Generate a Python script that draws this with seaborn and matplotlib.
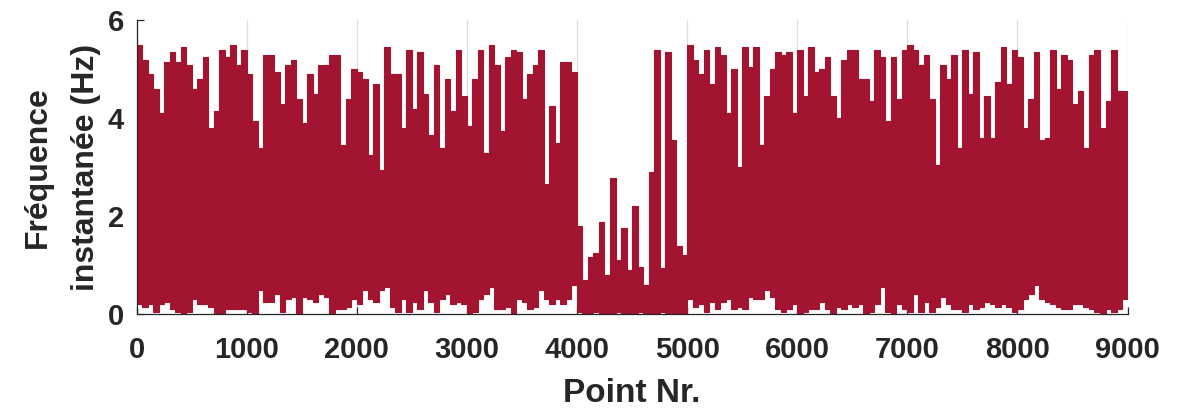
import numpy as np
import pandas as pd
import matplotlib
matplotlib.use("Agg")
import matplotlib.pyplot as plt
import seaborn as sns

# ---- data (upper / lower envelope per 50-point bin) ----
bin_width = 50
peaks = [5.5, 5.2, 4.9, 4.6, 4.1, 5.15, 5.35, 5.15, 5.45, 5.1,
         4.6, 4.8, 5.25, 3.8, 4.15, 5.4, 5.25, 5.5, 5.1, 5.4,
         4.9, 3.95, 3.4, 5.3, 5.3, 4.95, 4.3, 5.1, 5.2, 4.4,
         3.9, 4.9, 4.5, 5.1, 5.1, 5.3, 5.3, 3.45, 4.4, 5.0,
         4.95, 4.8, 3.25, 4.7, 2.95, 5.45, 4.9, 4.9, 3.8, 5.4,
         4.2, 5.35, 4.5, 3.65, 5.1, 3.4, 4.8, 4.15, 5.4, 4.45,
         3.85, 4.8, 5.4, 3.3, 5.5, 5.1, 3.75, 5.25, 5.4, 5.35,
         4.4, 4.9, 5.1, 5.4, 2.65, 4.25, 3.5, 5.15, 5.15, 4.95,
         1.8, 0.7, 1.17, 1.24, 1.89, 0.8, 2.77, 1.1, 1.75, 0.9,
         2.2, 0.97, 0.6, 2.9, 5.4, 0.95, 5.36, 3.56, 1.4, 1.2,
         5.5, 5.2, 4.9, 5.4, 4.7, 5.45, 5.3, 4.1, 5.0, 3.0,
         5.45, 5.05, 5.45, 3.45, 4.45, 5.0, 5.35, 5.3, 5.35, 4.1,
         5.4, 4.45, 5.45, 4.95, 5.0, 5.25, 4.45, 4.0, 5.2, 5.4,
         5.4, 4.8, 4.8, 4.35, 5.4, 5.25, 3.95, 5.25, 4.4, 5.4,
         5.5, 5.4, 5.1, 5.3, 4.4, 3.05, 5.1, 4.8, 5.3, 3.4,
         5.4, 4.5, 5.35, 3.6, 4.45, 3.6, 4.75, 5.45, 4.7, 5.4,
         5.25, 3.8, 4.4, 5.35, 3.55, 3.6, 5.4, 4.6, 5.3, 5.2,
         4.3, 4.55, 3.4, 5.3, 5.4, 3.8, 4.35, 5.4, 4.55, 4.55]

troughs = [0.2, 0.15, 0.2, 0.05, 0.2, 0.25, 0.1, 0.05, 0.0, 0.05,
           0.3, 0.2, 0.2, 0.15, 0.0, 0.0, 0.1, 0.1, 0.1, 0.1,
           0.05, 0.0, 0.5, 0.25, 0.25, 0.4, 0.05, 0.3, 0.35, 0.0,
           0.35, 0.3, 0.25, 0.4, 0.35, 0.0, 0.1, 0.1, 0.15, 0.3,
           0.2, 0.5, 0.3, 0.25, 0.5, 0.55, 0.15, 0.05, 0.3, 0.05,
           0.25, 0.1, 0.5, 0.25, 0.05, 0.3, 0.4, 0.2, 0.25, 0.2,
           0.0, 0.05, 0.3, 0.4, 0.55, 0.1, 0.1, 0.15, 0.0, 0.3,
           0.25, 0.1, 0.15, 0.5, 0.3, 0.2, 0.3, 0.2, 0.3, 0.6,
           0.05, 0.02, 0.0, 0.05, 0.0, 0.03, 0.0, 0.05, 0.0, 0.02,
           0.0, 0.04, 0.0, 0.03, 0.0, 0.05, 0.0, 0.02, 0.0, 0.03,
           0.3, 0.15, 0.2, 0.05, 0.25, 0.1, 0.25, 0.3, 0.1, 0.15,
           0.1, 0.35, 0.3, 0.3, 0.5, 0.35, 0.1, 0.05, 0.1, 0.2,
           0.0, 0.05, 0.1, 0.1, 0.25, 0.1, 0.0, 0.15, 0.1, 0.2,
           0.15, 0.2, 0.0, 0.05, 0.2, 0.55, 0.05, 0.0, 0.2, 0.1,
           0.05, 0.4, 0.05, 0.25, 0.05, 0.15, 0.35, 0.2, 0.1, 0.1,
           0.05, 0.2, 0.1, 0.15, 0.25, 0.2, 0.15, 0.2, 0.15, 0.05,
           0.1, 0.3, 0.4, 0.6, 0.3, 0.25, 0.2, 0.15, 0.1, 0.1,
           0.2, 0.2, 0.15, 0.1, 0.05, 0.0, 0.1, 0.05, 0.1, 0.3]

x_ticks = [0, 1000, 2000, 3000, 4000, 5000, 6000, 7000, 8000, 9000]
y_ticks = [0, 2, 4, 6]
x_label = "Point Nr."
y_label = "Fréquence\ninstantanée (Hz)"
line_color = "#A2142F"

# ---- bin edges derived from the bin width ----
n_bins = len(peaks)
edges = np.arange(n_bins + 1) * bin_width
x_step = np.repeat(edges, 2)[1:-1]
up_step = np.repeat(peaks, 2)
lo_step = np.repeat(troughs, 2)
df = pd.DataFrame({"point": np.concatenate([x_step, x_step]),
                   "freq": np.concatenate([up_step, lo_step]),
                   "edge": ["upper"] * len(x_step) + ["lower"] * len(x_step)})

sns.set_theme(style="white")
plt.rcParams["font.family"] = ["Liberation Sans", "DejaVu Sans"]
plt.rcParams["font.weight"] = "bold"

fig = plt.figure(figsize=(11.86, 4.08), dpi=100)
ax = fig.add_axes([0.1151, 0.2304, 0.8356, 0.7194])

# filled band between the lower and upper envelopes of the signal
ax.fill_between(x_step, lo_step, up_step, color=line_color, linewidth=0)
# outline of the envelopes
sns.lineplot(data=df, x="point", y="freq", units="edge", ax=ax,
             color=line_color, linewidth=0.8, estimator=None, sort=False)

ax.set_xlim(0, 9000)
ax.set_ylim(0, 6)
ax.set_xticks(x_ticks)
ax.set_yticks(y_ticks)
ax.set_axisbelow(True)
ax.grid(axis="x", color="#dedede", linewidth=0.9)
ax.grid(axis="y", visible=False)

for s in ["top", "right"]:
    ax.spines[s].set_visible(False)
for s in ["left", "bottom"]:
    ax.spines[s].set_color("#262626")
    ax.spines[s].set_linewidth(0.9)
    ax.spines[s].set_zorder(5)

ax.tick_params(axis="both", direction="in", length=5, width=0.9,
               color="#262626", labelcolor="#262626", labelsize=21)
ax.tick_params(axis="x", pad=16, bottom=True)
ax.tick_params(axis="y", pad=9, left=True)
for lab in ax.get_xticklabels() + ax.get_yticklabels():
    lab.set_fontweight("bold")

ax.set_xlabel(x_label, fontsize=24, fontweight="bold", color="#262626", labelpad=10)
ax.set_ylabel(y_label, fontsize=23, fontweight="bold", color="#262626",
              labelpad=5, linespacing=1.8)

fig.savefig("out.png", dpi=100)
